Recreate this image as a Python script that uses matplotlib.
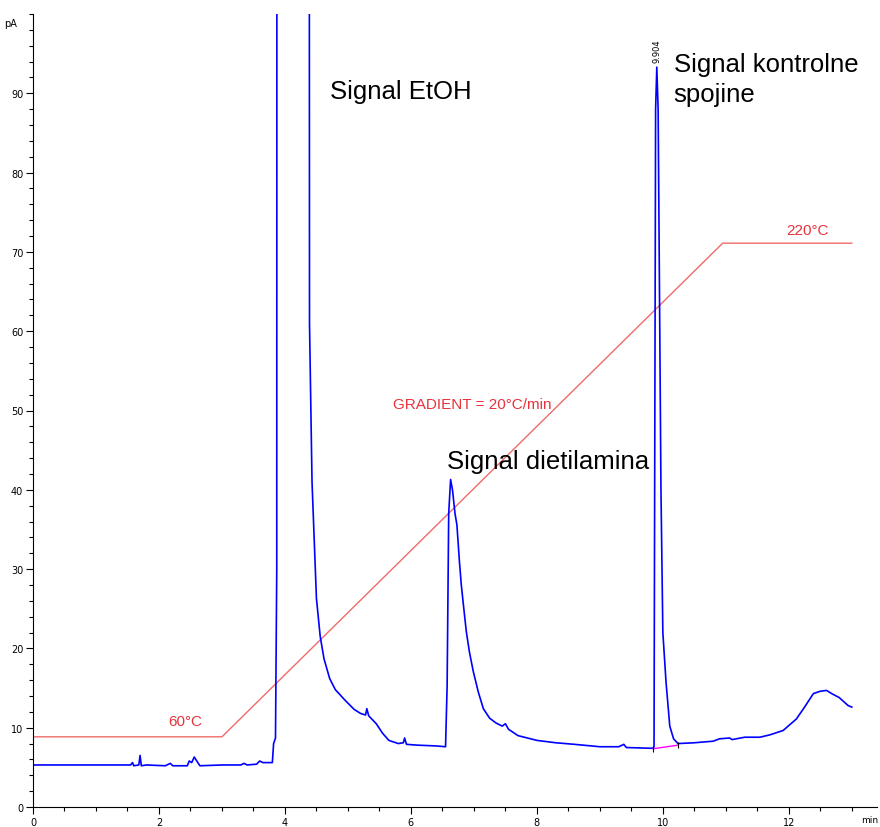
import numpy as np
import matplotlib
matplotlib.use("Agg")
import matplotlib.pyplot as plt

# chromatogram trace (min, pA)
time = [0.0, 1.55, 1.58, 1.6, 1.68, 1.7, 1.72, 1.8, 2.1, 2.18, 2.22, 2.45, 2.48, 2.52, 2.56, 2.6, 2.65,
        3.0, 3.3, 3.35, 3.4, 3.55, 3.6, 3.65, 3.8, 3.82, 3.85, 3.87, 3.88, 4.37, 4.39, 4.43, 4.47, 4.50,
        4.56, 4.62, 4.71, 4.8, 4.95, 5.1, 5.2, 5.28, 5.3, 5.33, 5.45, 5.55, 5.65, 5.8, 5.88, 5.9, 5.93,
        6.1, 6.4, 6.55, 6.575, 6.6, 6.63, 6.66, 6.7, 6.73, 6.77, 6.80, 6.84, 6.88, 6.93, 6.99, 7.07, 7.15,
        7.25, 7.35, 7.45, 7.5, 7.55, 7.7, 8.0, 8.3, 8.6, 9.0, 9.3, 9.38, 9.42, 9.84, 9.86, 9.87, 9.885,
        9.904, 9.925, 9.94, 9.97, 10.0, 10.05, 10.11, 10.17, 10.24, 10.5, 10.8, 10.9, 11.06, 11.1, 11.3,
        11.54, 11.7, 11.91, 12.12, 12.25, 12.39, 12.5, 12.6, 12.68, 12.8, 12.94, 13.0]
signal = [5.3, 5.3, 5.6, 5.2, 5.3, 6.5, 5.2, 5.3, 5.2, 5.5, 5.2, 5.2, 5.8, 5.6, 6.3, 5.8, 5.2,
          5.3, 5.3, 5.5, 5.3, 5.4, 5.8, 5.6, 5.6, 8.0, 8.7, 30.0, 400.0, 400.0, 61.0, 41.0, 32.6, 26.3,
          21.5, 18.7, 16.2, 14.8, 13.5, 12.3, 11.8, 11.6, 12.4, 11.5, 10.5, 9.3, 8.4, 8.0, 8.1, 8.7, 7.9,
          7.8, 7.7, 7.6, 15.3, 37.0, 41.3, 40.0, 37.0, 35.6, 31.0, 28.0, 25.0, 22.1, 19.5, 17.1, 14.5, 12.4,
          11.2, 10.6, 10.2, 10.5, 9.8, 9.0, 8.4, 8.1, 7.9, 7.6, 7.6, 7.9, 7.5, 7.4, 7.6, 40.0, 88.0,
          93.3, 88.0, 72.0, 40.0, 22.0, 15.8, 10.2, 8.6, 8.0, 8.1, 8.3, 8.6, 8.7, 8.5, 8.8,
          8.8, 9.1, 9.65, 11.1, 12.6, 14.3, 14.6, 14.7, 14.3, 13.8, 12.8, 12.6]

# oven temperature program drawn on the pA scale
temp_time = [0.0, 3.0, 10.95, 13.0]
temp_level = [8.85, 8.85, 71.1, 71.1]

# integration baseline under the 9.904 peak
base_time = [9.85, 10.24]
base_level = [7.35, 7.8]

fig = plt.figure(figsize=(8.8, 8.28), dpi=100)
ax = fig.add_axes([33 / 880, 20 / 828, 844 / 880, 793 / 828])

ax.plot(temp_time, temp_level, color="#f06a6a", lw=1.0)
ax.plot(time, signal, color="#0000ff", lw=1.2)
ax.plot(base_time, base_level, color="#ff00ff", lw=1.0)
ax.plot(base_time, base_level, ls="none", marker="|", color="black", ms=4, mew=0.8)

ax.set_xlim(0, 13.4)
ax.set_ylim(0, 100)
for s in ["top", "right"]:
    ax.spines[s].set_visible(False)
ax.set_xticks(np.arange(0, 13, 2))
ax.set_xticks(np.arange(0, 13.1, 0.5), minor=True)
ax.set_yticks(np.arange(0, 91, 10))
ax.set_yticks(np.arange(0, 100.1, 2), minor=True)
ax.tick_params(which="major", length=5, width=0.8, labelsize=7, pad=2)
ax.tick_params(which="minor", length=3, width=0.8)

ax.text(-0.25, 98.9, "pA", fontsize=7, ha="right", va="center")
ax.text(13.42, -1.55, "min", fontsize=6.5, ha="right", va="center", clip_on=False)

# peak retention time label
ax.text(9.904, 94.0, "9.904", rotation=90, fontsize=6, ha="center", va="bottom")

font = "Liberation Sans"
ax.text(4.71, 90.3, "Signal EtOH", fontsize=18.5, family=font, va="center")
ax.text(6.57, 43.6, "Signal dietilamina", fontsize=18.5, family=font, va="center")
ax.text(10.17, 91.8, "Signal kontrolne\nspojine", fontsize=18.5, family=font, va="center",
        linespacing=1.3)

red = "#e8323c"
ax.text(2.41, 10.9, "60°C", fontsize=11, color=red, family=font, ha="center", va="center")
ax.text(12.3, 72.8, "220°C", fontsize=11, color=red, family=font, ha="center", va="center")
ax.text(6.97, 50.8, "GRADIENT = 20°C/min", fontsize=11, color=red, family=font, ha="center",
        va="center")

fig.savefig("out.png", dpi=100)
